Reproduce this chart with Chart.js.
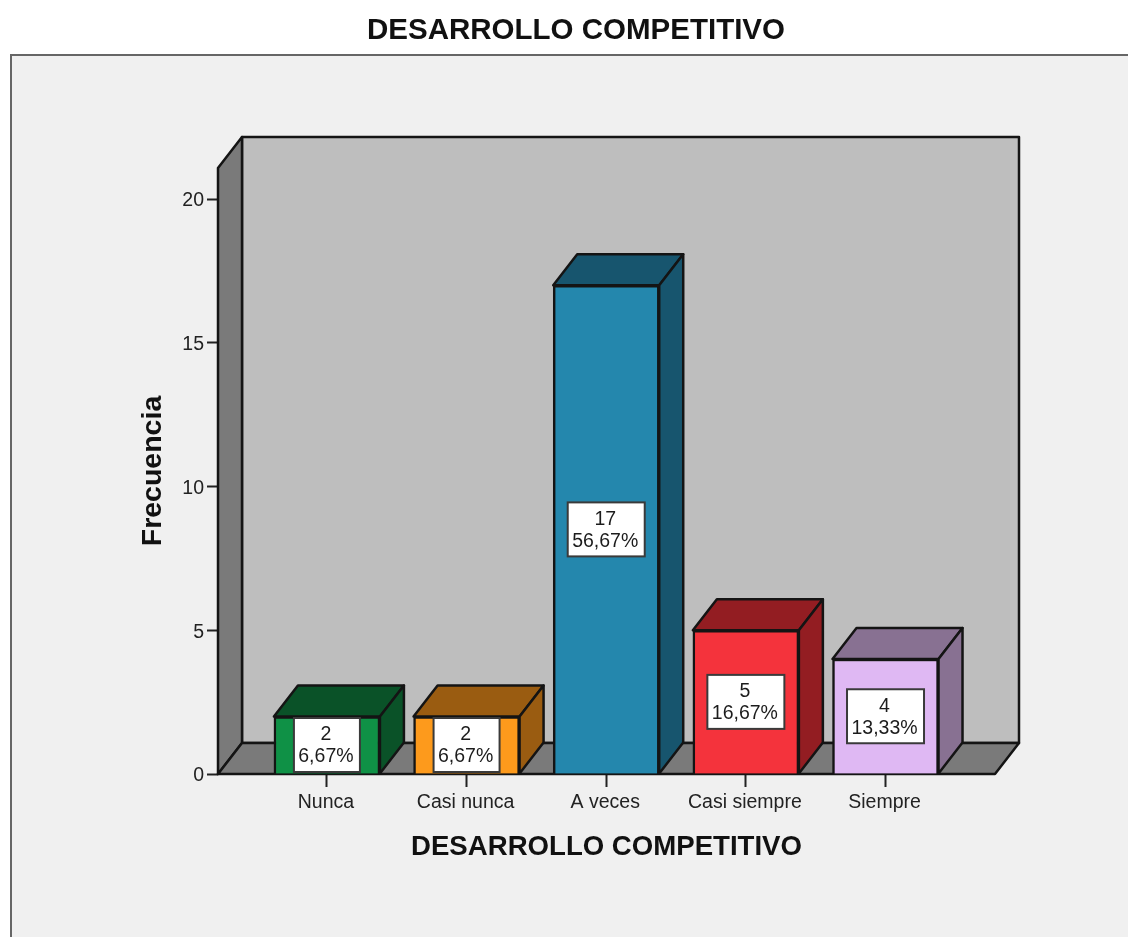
<!DOCTYPE html>
<html>
<head>
<meta charset="utf-8">
<title>DESARROLLO COMPETITIVO</title>
<script src="https://cdn.jsdelivr.net/npm/chart.js@4/dist/chart.umd.min.js"></script>
<style>
    html, body { margin: 0; padding: 0; background: #ffffff; overflow: hidden; }
    canvas { display: block; }
</style>
</head>
<body>
<canvas id="bar-chart" width="1128" height="937"></canvas>
<script>
const chartTitle = 'DESARROLLO COMPETITIVO';
const yTitle = 'Frecuencia';
const categories = ['Nunca', 'Casi nunca', 'A veces', 'Casi siempre', 'Siempre'];
const frecuencias = [2, 2, 17, 5, 4];
const porcentajes = ['6,67%', '6,67%', '56,67%', '16,67%', '13,33%'];

const frontColors = ['#0f9146', '#fd9a1c', '#2487ad', '#f4333c', '#dfb8f3'];
const sideColors = ['#0a5228', '#9a5c11', '#17556e', '#931d22', '#887192'];

const depthX = 24;
const depthY = 31;
const lineColor = '#141414';
const fontName = '"Liberation Sans", Arial, sans-serif';

function polygon(ctx, points, fill) {
    ctx.beginPath();
    points.forEach((p, i) => i ? ctx.lineTo(p[0], p[1]) : ctx.moveTo(p[0], p[1]));
    ctx.closePath();
    ctx.fillStyle = fill;
    ctx.fill();
    ctx.stroke();
}

// fondo del grafico, paredes y caras laterales de las barras
const scenePlugin = {
    id: 'scene',
    beforeDraw(chart) {
        const ctx = chart.ctx;
        ctx.save();
        ctx.fillStyle = '#ffffff';
        ctx.fillRect(0, 0, chart.width, chart.height);
        ctx.fillStyle = '#f0f0f0';
        ctx.strokeStyle = '#666666';
        ctx.lineWidth = 2;
        ctx.fillRect(11, 55, chart.width, chart.height);
        ctx.strokeRect(11, 55, chart.width, chart.height);

        ctx.fillStyle = '#111111';
        ctx.font = 'bold 29.5px ' + fontName;
        ctx.textAlign = 'center';
        ctx.textBaseline = 'middle';
        ctx.fillText(chartTitle, 576, 31);
        ctx.restore();
    },
    beforeDatasetsDraw(chart) {
        const ctx = chart.ctx;
        const a = chart.chartArea;
        ctx.save();
        ctx.strokeStyle = lineColor;
        ctx.lineWidth = 2.5;
        ctx.lineJoin = 'round';

        polygon(ctx, [[a.left + depthX, a.top - depthY], [a.right + depthX, a.top - depthY],
            [a.right + depthX, a.bottom - depthY], [a.left + depthX, a.bottom - depthY]], '#bebebe');
        polygon(ctx, [[a.left, a.top], [a.left + depthX, a.top - depthY],
            [a.left + depthX, a.bottom - depthY], [a.left, a.bottom]], '#7a7a7a');
        polygon(ctx, [[a.left, a.bottom], [a.left + depthX, a.bottom - depthY],
            [a.right + depthX, a.bottom - depthY], [a.right, a.bottom]], '#7a7a7a');

        chart.getDatasetMeta(0).data.forEach((bar, i) => {
            const p = bar.getProps(['x', 'y', 'base', 'width'], true);
            const l = p.x - p.width / 2;
            const r = p.x + p.width / 2;
            polygon(ctx, [[l, p.y], [l + depthX, p.y - depthY], [r + depthX, p.y - depthY], [r, p.y]], sideColors[i]);
            polygon(ctx, [[r, p.y], [r + depthX, p.y - depthY], [r + depthX, p.base - depthY], [r, p.base]], sideColors[i]);
        });
        ctx.restore();
    },
    afterDatasetsDraw(chart) {
        const ctx = chart.ctx;
        ctx.save();
        ctx.font = '19.5px ' + fontName;
        ctx.textAlign = 'center';
        ctx.textBaseline = 'middle';
        chart.getDatasetMeta(0).data.forEach((bar, i) => {
            const p = bar.getProps(['x', 'y', 'base'], true);
            const cy = (p.y + p.base) / 2;
            const w = Math.ceil(ctx.measureText(porcentajes[i]).width) + 10;
            const h = 54;
            ctx.fillStyle = '#ffffff';
            ctx.strokeStyle = '#3a3a3a';
            ctx.lineWidth = 2;
            ctx.fillRect(p.x - w / 2, cy - h / 2, w, h);
            ctx.strokeRect(p.x - w / 2, cy - h / 2, w, h);
            ctx.fillStyle = '#1c1c1c';
            ctx.fillText(String(frecuencias[i]), p.x - 1, cy - 10);
            ctx.fillText(porcentajes[i], p.x - 1, cy + 12);
        });
        ctx.restore();
    }
};

const ctx = document.getElementById('bar-chart').getContext('2d');

new Chart(ctx, {
    type: 'bar',
    data: {
        datasets: [{
            label: yTitle,
            data: frecuencias.map((v, i) => ({ x: i, y: v })),
            backgroundColor: frontColors,
            borderColor: lineColor,
            borderWidth: 2.5,
            barThickness: 106
        }]
    },
    options: {
        responsive: false,
        animation: false,
        layout: { padding: { top: 168, left: 136, right: 133, bottom: 73 } },
        plugins: {
            legend: { display: false },
            title: { display: false },
            tooltip: { enabled: false }
        },
        scales: {
            x: {
                type: 'linear',
                offset: false,
                min: -0.78,
                max: 4.784,
                afterFit(scale) { scale.height = 90; },
                border: { display: false },
                grid: { offset: false, drawOnChartArea: false, tickLength: 13, tickWidth: 2, tickColor: '#222222' },
                ticks: {
                    stepSize: 1,
                    includeBounds: false,
                    autoSkip: false,
                    maxRotation: 0,
                    padding: 4,
                    labelOffset: -1,
                    color: '#222222',
                    font: { family: fontName, size: 19.5 },
                    callback: value => categories[value]
                },
                title: {
                    display: true,
                    text: chartTitle,
                    color: '#111111',
                    padding: 0,
                    font: { family: fontName, size: 27.6, weight: 'bold' }
                }
            },
            y: {
                min: 0,
                max: 21.08,
                afterFit(scale) { scale.width = 82; },
                border: { display: false },
                grid: { drawOnChartArea: false, tickLength: 11, tickWidth: 2, tickColor: '#222222' },
                ticks: {
                    stepSize: 5,
                    includeBounds: false,
                    padding: 3,
                    labelOffset: 2,
                    color: '#222222',
                    font: { family: fontName, size: 19.5 }
                },
                title: {
                    display: true,
                    text: yTitle,
                    color: '#111111',
                    padding: 0,
                    font: { family: fontName, size: 28.5, weight: 'bold' }
                }
            }
        }
    },
    plugins: [scenePlugin]
});
</script>
</body>
</html>
